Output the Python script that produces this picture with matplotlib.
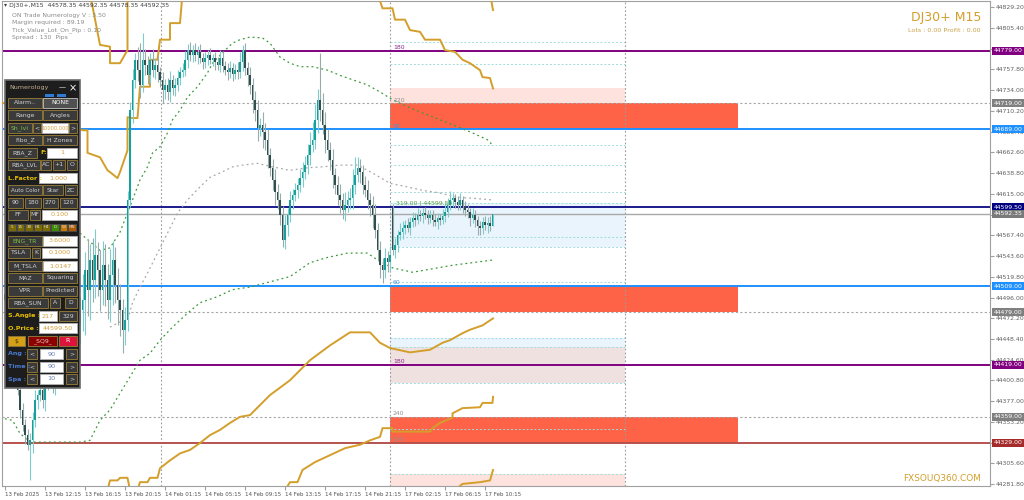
import matplotlib
matplotlib.use('Agg')
import matplotlib.pyplot as plt
from matplotlib.patches import Rectangle
import numpy as np

# ---------------- data (bar index, price) ----------------
closes = [
    44493, 44482, 44459, 44436, 44413, 44390, 44367, 44350, 44338, 44327,
    44332, 44355, 44378, 44384, 44390, 44378, 44396, 44401, 44407, 44396,
    44413, 44419, 44407, 44413, 44424, 44436, 44441, 44453, 44447, 44464,
    44482, 44493, 44528, 44505, 44539, 44516, 44545, 44528, 44505, 44533,
    44516, 44493, 44522, 44539, 44510, 44493, 44482, 44459, 44470, 44608,
    44711, 44746, 44769, 44757, 44740, 44769, 44763, 44751, 44769, 44757,
    44763, 44755, 44746, 44734, 44740, 44732, 44746, 44737, 44740, 44748,
    44755, 44757, 44769, 44780, 44774, 44780, 44774, 44778, 44771, 44766,
    44771, 44774, 44769, 44771, 44766, 44763, 44771, 44762, 44757, 44755,
    44759, 44753, 44757, 44755, 44766, 44780, 44759, 44751, 44740, 44723,
    44711, 44691, 44694, 44686, 44677, 44660, 44645, 44631, 44617, 44608,
    44591, 44562, 44579, 44591, 44608, 44614, 44619, 44625, 44633, 44640,
    44648, 44660, 44671, 44677, 44700, 44723, 44711, 44694, 44677, 44665,
    44654, 44637, 44625, 44614, 44608, 44596, 44602, 44608, 44610, 44625,
    44637, 44645, 44640, 44625, 44619, 44608, 44602, 44591, 44574, 44551,
    44533, 44528, 44541, 44537, 44545, 44551, 44556, 44568, 44571, 44576,
    44579, 44576, 44583, 44587, 44585, 44591, 44590, 44593, 44591, 44587,
    44591, 44585, 44583, 44587, 44585, 44590, 44594, 44602, 44608, 44610,
    44606, 44602, 44608, 44601, 44596, 44594, 44587, 44591, 44585, 44578,
    44576, 44583, 44579, 44582, 44578.35, 44592.35,
]
wick_up = [
    6, 8, 5, 7, 6, 9, 5, 8, 6, 7,
    8, 10, 12, 6, 9, 7, 8, 10, 6, 9,
    8, 14, 6, 9, 7, 10, 8, 12, 6, 9,
    15, 30, 20, 35, 18, 25, 30, 15, 22, 28,
    25, 18, 30, 22, 15, 20, 18, 12, 15, 10,
    10, 12, 8, 15, 31, 31, 12, 10, 8, 12,
    8, 10, 6, 9, 7, 8, 10, 6, 8, 9,
    6, 8, 10, 7, 9, 6, 8, 7, 9, 6,
    7, 6, 8, 5, 7, 6, 9, 7, 6, 8,
    8, 6, 7, 9, 12, 6, 8, 7, 10, 8,
    10, 12, 8, 15, 10, 12, 8, 10, 12, 9,
    8, 10, 12, 8, 10, 7, 9, 8, 10, 12,
    10, 12, 15, 20, 18, 12, 54, 20, 15, 12,
    10, 12, 8, 10, 12, 8, 15, 10, 12, 18,
    20, 12, 10, 8, 10, 12, 8, 10, 12, 8,
    10, 8, 12, 8, 10, 4, 8, 6, 10, 8,
    6, 8, 5, 7, 6, 8, 5, 6, 7, 5,
    6, 5, 7, 6, 5, 8, 10, 8, 10, 6,
    5, 6, 8, 5, 6, 7, 5, 8, 6, 5,
    6, 5, 7, 6, 8, 0,
]
wick_dn = [
    5, 7, 6, 8, 5, 6, 9, 7, 10, 6,
    40, 15, 8, 10, 7, 9, 12, 6, 8, 10,
    12, 7, 10, 8, 9, 6, 11, 8, 10, 7,
    20, 25, 40, 30, 35, 25, 20, 30, 25, 18,
    30, 22, 25, 35, 20, 28, 30, 27, 18, 12,
    8, 15, 10, 12, 15, 8, 12, 10, 9, 8,
    10, 12, 8, 15, 10, 9, 12, 8, 10, 7,
    8, 6, 7, 9, 6, 8, 7, 10, 6, 8,
    6, 8, 5, 7, 9, 6, 8, 7, 6, 9,
    7, 9, 6, 8, 7, 10, 8, 12, 10, 15,
    12, 15, 10, 18, 12, 15, 10, 12, 15, 10,
    12, 8, 10, 12, 8, 10, 7, 9, 8, 10,
    8, 10, 12, 8, 10, 15, 12, 10, 15, 12,
    12, 15, 10, 12, 15, 10, 12, 8, 10, 12,
    10, 8, 12, 10, 8, 10, 12, 15, 10, 12,
    15, 15, 10, 12, 10, 6, 10, 8, 6, 8,
    7, 5, 8, 6, 7, 5, 6, 8, 5, 7,
    6, 7, 5, 8, 6, 5, 7, 6, 5, 8,
    7, 6, 5, 8, 6, 7, 9, 6, 8, 10,
    8, 7, 6, 9, 6, 0,
]
first_open = 44500
monday_bar = 155
monday_open = 44599

time_labels = ["13 Feb 2025", "13 Feb 12:15", "13 Feb 16:15", "13 Feb 20:15",
               "14 Feb 01:15", "14 Feb 05:15", "14 Feb 09:15", "14 Feb 13:15",
               "14 Feb 17:15", "14 Feb 21:15", "17 Feb 02:15", "17 Feb 06:15",
               "17 Feb 10:15"]
time_label_bars = [0, 16, 32, 48, 64, 80, 96, 112, 128, 144, 160, 176, 192]

price_ticks = [44829.20, 44805.40, 44781.60, 44757.80, 44734.00, 44710.20,
               44686.40, 44662.60, 44638.80, 44615.00, 44591.20, 44567.40,
               44543.60, 44519.80, 44496.00, 44472.20, 44448.40, 44424.60,
               44400.80, 44377.00, 44353.20, 44329.40, 44305.60, 44281.80]

separator_bars = [62.5, 154, 248]

# horizontal levels
solid_levels = [44779, 44689, 44599.5, 44592.35, 44509, 44419, 44329]
dotted_levels = [44719, 44479, 44359]
box_levels = [44779, 44719, 44689, 44599.5, 44592.35, 44509, 44479, 44419, 44359, 44329]

# zones
zone_start, zone_mid, zone_end = 154, 248, 293
strong_zones = [(44690, 44719), (44479, 44509), (44329, 44359)]
pink_zones = [(44719, 44736.5), (44280, 44293)]
blue_zones = [(44554, 44604), (44439, 44449.5)]
rose_zones = [(44398, 44439)]
zone_grid = [44789, 44764, 44671, 44648, 44617, 44604, 44565, 44554, 44514,
             44449.5, 44439, 44398, 44345, 44293]

# level captions
caption_prices = [44783, 44722, 44692, 44604, 44513, 44423, 44363, 44333]
caption_texts = ["180", "120", "90", "319.00 | 44599.50", "60", "180", "240", "300"]

# overlay lines
gold_a_x = [-2, 14, 31, 33, 33, 38, 41, 42, 45, 46, 49, 49, 51, 53, 54, 58, 58, 61, 62, 66, 66, 70, 71]
gold_a_y = [44720, 44711, 44688, 44688, 44662, 44657, 44642, 44640, 44633, 44640, 44665, 44703,
            44702, 44702, 44738, 44738, 44769, 44769, 44792, 44792, 44811, 44811, 44845]
gold_b_x = [34, 38, 42, 42, 46, 49, 49]
gold_b_y = [44845, 44786, 44784, 44765, 44765, 44780, 44845]
gold_c_x = [149, 151, 155, 156, 160, 162, 166, 168, 174, 176, 180, 183, 186, 190, 191, 194, 195.2]
gold_c_y = [44845, 44828, 44828, 44815, 44815, 44803, 44801, 44792, 44792, 44780, 44778,
            44769, 44765, 44757, 44749, 44748, 44736]
gold_d_x = [194, 195.2]
gold_d_y = [44845, 44826]
gold_e_x = [41, 42, 45, 46, 49, 50]
gold_e_y = [44275, 44286, 44286, 44289, 44289, 44275]
gold_f_x = [53, 54, 57, 58, 61, 62, 66, 70, 74, 78, 82, 86, 90, 94, 98, 106, 114, 122, 130,
            138, 146, 150, 154, 162, 170, 175, 178, 183, 186, 191, 195.2]
gold_f_y = [44275, 44284, 44284, 44289, 44289, 44300, 44309, 44317, 44321, 44329, 44338,
            44344, 44352, 44359, 44361, 44384, 44401, 44424, 44441, 44456, 44456, 44444,
            44438, 44433, 44436, 44444, 44447, 44455, 44459, 44464, 44472]
gold_g_x = [112, 114, 117, 119, 124, 130, 136, 142, 146, 150, 151, 155, 155, 170, 171, 174,
            179, 179, 183, 190, 191, 195, 195.2]
gold_g_y = [44275, 44284, 44284, 44298, 44307, 44315, 44323, 44327, 44332, 44336, 44346,
            44346, 44342, 44342, 44346, 44352, 44358, 44363, 44369, 44370, 44375, 44375, 44382]
gold_h_x = [180, 183, 190, 194, 195.2]
gold_h_y = [44275, 44282, 44284, 44286, 44298]

green_hi_x = [30, 34, 38, 42, 46, 49, 51, 54, 57, 59, 62, 65, 67, 70, 73, 77, 81, 83, 87, 91,
              94, 98, 103, 106, 110, 114, 118, 123, 129, 134, 139, 145, 150, 155, 161, 167,
              174, 181, 187, 193, 195]
green_hi_y = [44570, 44560, 44550, 44553, 44571, 44593, 44608, 44631, 44646, 44662, 44669,
              44685, 44700, 44711, 44726, 44738, 44754, 44765, 44777, 44788, 44792, 44795,
              44794, 44788, 44772, 44765, 44761, 44761, 44757, 44751, 44746, 44740, 44732,
              44723, 44715, 44708, 44700, 44692, 44685, 44677, 44671]
green_lo_x = [-2, 3, 6, 10, 18, 30, 34, 38, 42, 46, 50, 54, 58, 62, 67, 73, 78, 85, 91, 98,
              106, 114, 122, 129, 137, 145, 149, 155, 163, 171, 179, 187, 195]
green_lo_y = [44358, 44355, 44340, 44330, 44330, 44330, 44332, 44355, 44367, 44386, 44405,
              44424, 44432, 44447, 44462, 44478, 44490, 44497, 44505, 44508, 44514, 44520,
              44536, 44542, 44547, 44547, 44539, 44530, 44525, 44529, 44533, 44536, 44539]
gray_ma_x = [42, 46, 49, 51, 54, 57, 61, 65, 69, 73, 78, 82, 86, 91, 95, 101, 107, 114, 121,
             127, 134, 141, 147, 154, 161, 167, 174, 181, 187, 195]
gray_ma_y = [44462, 44468, 44470, 44490, 44508, 44524, 44547, 44570, 44593, 44608, 44623,
             44634, 44639, 44646, 44648, 44650, 44646, 44642, 44645, 44646, 44648, 44648,
             44639, 44627, 44623, 44619, 44616, 44611, 44610, 44608]

# ---------------- styling ----------------
GOLD = '#d39e2a'
level_colors = {44779: '#800080', 44689: '#1e90ff', 44599.5: '#1a1a8c', 44592.35: '#a9a9a9',
                44509: '#1e90ff', 44419: '#800080', 44329: '#b5524e'}
box_colors = {44779: '#800080', 44719: '#808080', 44689: '#1e90ff', 44599.5: '#000080',
              44592.35: '#7a7a7a', 44509: '#1e90ff', 44479: '#808080', 44419: '#800080',
              44359: '#808080', 44329: '#a52a2a'}
caption_colors = ['#8a2a8a', '#909090', '#4a90d9', '#5aa040', '#4a90d9', '#8a2a8a', '#909090', '#909090']

fig = plt.figure(figsize=(10.24, 5), dpi=100)
fig.patch.set_facecolor('white')
ax = fig.add_axes([2 / 1024, 14 / 500, 988 / 1024, 485 / 500])
ax.set_xlim(-1.2, 394)
ax.set_ylim(44279.6, 44836.4)

# zones
for lo, hi in strong_zones:
    ax.add_patch(Rectangle((zone_start, lo), zone_end - zone_start, hi - lo, fc='#ff6347', ec='none', zorder=1))
for lo, hi in pink_zones:
    ax.add_patch(Rectangle((zone_start, lo), zone_mid - zone_start, hi - lo, fc='#fde2de', ec='none', zorder=1))
for lo, hi in blue_zones:
    ax.add_patch(Rectangle((zone_start, lo), zone_mid - zone_start, hi - lo, fc='#eaf4fd', ec='none', zorder=1))
for lo, hi in rose_zones:
    ax.add_patch(Rectangle((zone_start, lo), zone_mid - zone_start, hi - lo, fc='#efe1df', ec='none', zorder=1))
ax.hlines(zone_grid, zone_start, zone_mid, colors='#9fdcdc', linestyles=(0, (2, 2)), lw=0.7, zorder=1.5)

# separators & levels
for b in separator_bars:
    ax.axvline(b, color='#9a9a9a', ls=(0, (1.5, 2)), lw=0.8, zorder=1.6)
for p in dotted_levels:
    ax.axhline(p, color='#a6a6a6', ls=(0, (2, 2)), lw=0.8, zorder=1.6)
for p in solid_levels:
    ax.axhline(p, color=level_colors[p], lw=1.0 if p == 44592.35 else 1.4, zorder=2)

# overlay lines
for xs, ys in [(gold_a_x, gold_a_y), (gold_b_x, gold_b_y), (gold_c_x, gold_c_y), (gold_d_x, gold_d_y),
               (gold_e_x, gold_e_y), (gold_f_x, gold_f_y), (gold_g_x, gold_g_y), (gold_h_x, gold_h_y)]:
    ax.plot(xs, ys, color=GOLD, lw=1.4, zorder=2.6)
ax.plot(green_hi_x, green_hi_y, color='#3c9a3c', ls=(0, (1.5, 2.5)), lw=0.9, zorder=2.6)
ax.plot(green_lo_x, green_lo_y, color='#3c9a3c', ls=(0, (1.5, 2.5)), lw=0.9, zorder=2.6)
ax.plot(gray_ma_x, gray_ma_y, color='#a8a8a8', ls=(0, (1.5, 2.5)), lw=0.9, zorder=2.6)

# candles
c = np.array(closes, dtype=float)
o = np.concatenate([[first_open], c[:-1]])
o[monday_bar] = monday_open
hi = np.maximum(o, c) + np.array(wick_up)
lo = np.minimum(o, c) - np.array(wick_dn)
idx = np.arange(len(c))
bull = c >= o
ax.vlines(idx, lo, hi, colors=np.where(bull, '#7fcccc', '#9aabab'), lw=0.8, zorder=3)
ax.bar(idx, np.maximum(np.abs(c - o), 0.8), bottom=np.minimum(o, c), width=0.75,
       color=np.where(bull, '#16a09a', '#2f4f4f'), lw=0, zorder=4)

# captions on the zones
for p, t, col in zip(caption_prices, caption_texts, caption_colors):
    xpos = 156.5 if t.startswith('319') else 155.2
    ax.text(xpos, p, t, color=col, fontsize=4.4, va='center', ha='left', zorder=5)

# axes styling
for s in ax.spines.values():
    s.set_color('#a0a0a0')
    s.set_linewidth(0.8)
ax.set_xticks(time_label_bars)
ax.set_xticklabels(time_labels)
for t in ax.get_xticklabels():
    t.set_ha('left')
ax.tick_params(axis='x', labelsize=4.0, labelcolor='#505050', color='#a0a0a0', length=3, pad=1.5)
ax.yaxis.tick_right()
ax.set_yticks(price_ticks)
ax.set_yticklabels([f"{p:.2f}" for p in price_ticks])
ax.tick_params(axis='y', labelsize=4.4, labelcolor='#606060', color='#a0a0a0', length=3, pad=1.2)

for p in box_levels:
    ax.text(1.0035, p, f"{p:.2f}", transform=ax.get_yaxis_transform(), ha='left', va='center',
            fontsize=4.4, color='white', zorder=10, clip_on=False,
            bbox=dict(boxstyle='square,pad=0.25', fc=box_colors[p], ec='none'))

# ---------------- overlay (pixel coordinates) ----------------
ov = fig.add_axes([0, 0, 1, 1])
ov.set_xlim(0, 1024)
ov.set_ylim(500, 0)
ov.axis('off')
ov.patch.set_alpha(0)
ov.set_zorder(10)

ov.text(4, 6, f"\u25be DJ30+,M15  {o[-1]:.2f} {hi[-1]:.2f} {lo[-1]:.2f} {c[-1]:.2f}",
        fontsize=4.4, color='#404040', va='center')
for k, line in enumerate(["ON Trade Numerology V : 3.50", "Margin required : 89.19",
                          "Tick_Value_Lot_On_Pip : 0.10", "Spread : 130  Pips"]):
    ov.text(12, 15 + 7.6 * k, line, fontsize=4.4, color='#8a8a8a', va='center')

ov.text(981, 17, "DJ30+ M15", fontsize=9, color=GOLD, ha='right', va='center')
ov.text(981, 31, "Lots : 0.00 Profit : 0.00", fontsize=4.6, color='#c9a24a', ha='right', va='center')
ov.text(981, 478, "FXSOUQ360.COM", fontsize=6.4, color=GOLD, ha='right', va='center')

# numerology panel
ov.add_patch(Rectangle((5, 80), 75, 308, fc='#1d1d1d', ec='#6a6a6a', lw=1.2))
ov.text(9, 88, "Numerology", fontsize=4.6, color='#c0b090', va='center')
ov.text(62, 87, "\u2014", fontsize=5, color='white', ha='center', va='center')
ov.text(73, 88, "\u00d7", fontsize=7, color='white', ha='center', va='center')
ov.add_patch(Rectangle((45, 94), 9, 2.5, fc='#2f7bd4', ec='none'))
ov.add_patch(Rectangle((57, 94), 9, 2.5, fc='#2f7bd4', ec='none'))

BTN, BORDER, TXT = '#3a3a3a', '#8c7436', '#d0d0d0'
VAL = '#d0a040'
YEL = '#e8c000'
BLU = '#4a7ad0'
GRN = '#7dc142'


def btn(x0, x1, y, label, fc=BTN, tc=TXT, ec=BORDER, fs=4.4, h=10):
    ov.add_patch(Rectangle((x0, y), x1 - x0, h, fc=fc, ec=ec, lw=0.7))
    ov.text((x0 + x1) / 2, y + h / 2, label, color=tc, fontsize=fs, ha='center', va='center')


def box(x0, x1, y, label, tc=VAL, fs=4.6):
    btn(x0, x1, y, label, fc='white', tc=tc, ec='#b0b0b0', fs=fs)


def lab(x, y, label, tc=YEL):
    ov.text(x, y + 5, label, color=tc, fontsize=4.6, ha='left', va='center', fontweight='bold')


btn(8, 42, 98, "Alarm..")
btn(43, 77, 98, "NONE", fc='#505050', tc='white', ec='#b0b0b0')
btn(8, 42, 110, "Range")
btn(43, 77, 110, "Angles")
btn(8, 32, 123, "Sh_lvl", tc=GRN)
btn(33, 41, 123, "<")
box(42, 68, 123, "10000.000", fs=3.6)
btn(69, 77, 123, ">")
btn(8, 42, 135, "Fibo_Z")
btn(43, 77, 135, "H Zones")
btn(8, 37, 148, "RBA_Z")
lab(40, 148, "F:")
box(47, 77, 148, "1")
btn(8, 40, 160, "RBA_LVL")
btn(41, 51, 160, "AC")
btn(53, 65, 160, "+1")
btn(67, 77, 160, "O")
lab(8, 173, "L.Factor :")
box(39, 77, 173, "1.000")
btn(8, 42, 185, "Auto Color", fs=4.0)
btn(43, 63, 185, "Star")
btn(65, 77, 185, "ZC")
btn(8, 23, 198, "90")
btn(25, 41, 198, "180")
btn(43, 58, 198, "270")
btn(60, 77, 198, "120")
btn(8, 28, 210, "FF")
btn(30, 40, 210, "MF")
box(42, 77, 210, "0.100")
tf_labels = ["5", "15", "30", "H1", "H4", "D", "W", "MN"]
tf_colors = ['#7a6a00', '#7a6a00', '#7a6a00', '#7a6a00', '#7a6a00', '#3c8c00', '#c87800', '#b05a00']
for k, (t, col) in enumerate(zip(tf_labels, tf_colors)):
    btn(8 + k * 8.6, 8 + (k + 1) * 8.6 - 0.8, 224, t, fc=col, tc='#e0e0e0', ec='#4a4a4a', fs=3.0, h=7)
btn(8, 42, 236, "ENG_TR", tc=GRN)
box(43, 77, 236, "3.6000")
btn(8, 30, 248, "TSLA")
btn(32, 40, 248, "K")
box(42, 77, 248, "0.1000")
btn(8, 42, 261, "M_TSLA")
box(43, 77, 261, "1.0147")
btn(8, 42, 273, "MAZ")
btn(43, 77, 273, "Squaring")
btn(8, 42, 286, "VPR")
btn(43, 77, 286, "Predicted")
btn(8, 48, 298, "RBA_SUN")
btn(50, 60, 298, "A")
btn(65, 77, 298, "D")
lab(8, 311, "S.Angle :")
box(39, 57, 311, "217")
btn(59, 77, 311, "329")
lab(8, 323, "O.Price :")
box(39, 77, 323, "44599.50")
btn(8, 25, 336, "$", fc='#d4a017', tc='#3a2a00', ec='#8c7436')
btn(28, 57, 336, "_SQ9_", fc='#8b0000', tc='#e8c8c8', ec='#8c7436')
btn(59, 77, 336, "R", fc='#dc143c', tc='white', ec='#8c7436')
for y, name, val in [(349, "Ang :", "90"), (362, "Time :", "90"), (374, "Spa :", "10")]:
    lab(8, y, name, tc=BLU)
    btn(27, 37, y, "<")
    box(40, 63, y, val, tc='#6a80b0')
    btn(66, 77, y, ">")

fig.savefig('out.png', dpi=100, facecolor='white')
